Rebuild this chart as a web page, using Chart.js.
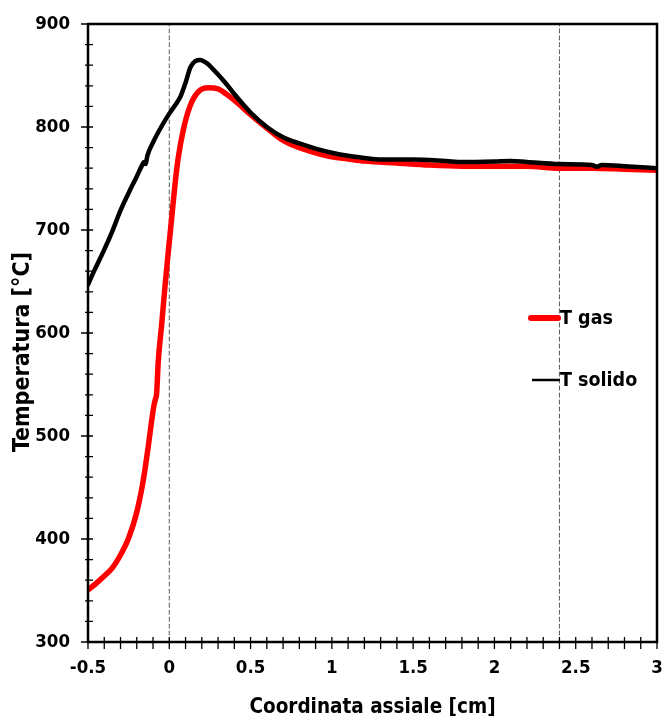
<!DOCTYPE html>
<html>
<head>
<meta charset="utf-8">
<script src="https://cdn.jsdelivr.net/npm/chart.js@4/dist/chart.umd.min.js"></script>
<style>
  html, body { margin: 0; padding: 0; background: #fff; }
  #wrap { width: 662px; height: 718px; }
</style>
</head>
<body>
<div id="wrap"><canvas id="chart" width="662" height="718"></canvas></div>
<script>
// ---- dati ----
const gasX = [-0.5, -0.45, -0.4, -0.35, -0.3, -0.25, -0.2, -0.16, -0.13, -0.11, -0.095, -0.085, -0.078,
  -0.068, -0.047, -0.026, -0.006, 0.015, 0.035, 0.055, 0.086, 0.127, 0.178, 0.24, 0.3, 0.35, 0.4,
  0.5, 0.6, 0.7, 0.8, 0.9, 1.0, 1.1, 1.2, 1.4, 1.6, 1.8, 2.0, 2.2, 2.4, 2.6, 2.8, 3.0];
const gasT = [350.5, 357, 364, 372, 384.5, 401, 426, 457, 489, 513, 529, 536, 541,
  572, 608, 646, 679, 712, 744, 770, 797, 820, 834, 838, 837, 832, 826,
  812, 799, 787, 780, 775, 771, 769, 767, 765, 763, 762, 762, 762, 760, 760, 759, 758];

const solidX = [-0.5, -0.46, -0.4, -0.35, -0.3, -0.25, -0.2, -0.17, -0.155, -0.145, -0.135, -0.1, -0.05, 0,
  0.04, 0.07, 0.1, 0.13, 0.16, 0.19, 0.23, 0.27, 0.3, 0.35, 0.4, 0.5, 0.6, 0.7, 0.8, 0.9,
  1.0, 1.1, 1.2, 1.3, 1.5, 1.7, 1.8, 2.0, 2.1, 2.2, 2.4, 2.6, 2.63, 2.66, 2.8, 3.0];
const solidT = [647, 661, 681, 699, 719, 736, 752, 762, 766, 764, 772, 785, 800, 813,
  822, 830, 843, 858, 864, 865, 862, 856, 851, 842, 832, 814, 800, 790, 784, 779,
  775, 772, 770, 768.5, 768.5, 767, 766, 766.5, 767, 766, 764, 763, 761.5, 763, 762, 760];

const markerX = [0, 2.4];          // linee tratteggiate verticali
const xTicks = [-0.5, 0, 0.5, 1, 1.5, 2, 2.5, 3];
const yTicks = [300, 400, 500, 600, 700, 800, 900];
const seriesNames = ['T gas', 'T solido'];
const yTitle = 'Temperatura [°C]';

const FONT = "'Liberation Sans Narrow', 'Arial Narrow', 'DejaVu Sans Condensed', Arial, sans-serif";

const toPts = (xs, ys) => xs.map((x, i) => ({ x, y: ys[i] }));

const datasets = [
  { label: seriesNames[1], data: toPts(solidX, solidT), borderColor: '#000', borderWidth: 4.5, order: 1 },
  { label: seriesNames[0], data: toPts(gasX, gasT), borderColor: '#ff0000', borderWidth: 5.5, order: 2 }
];
markerX.forEach(v => datasets.push({
  label: 'marker', data: [{ x: v, y: 300 }, { x: v, y: 900 }],
  borderColor: '#555', borderWidth: 1, borderDash: [4, 3], order: 3
}));

// cornice, tacche, titolo asse y e legenda
const framePlugin = {
  id: 'frame',
  afterDraw(chart) {
    const { ctx, chartArea: a, scales } = chart;
    ctx.save();
    ctx.strokeStyle = '#000';
    ctx.lineWidth = 2.5;
    ctx.strokeRect(a.left, a.top, a.right - a.left, a.bottom - a.top);
    ctx.lineWidth = 1.3;
    ctx.beginPath();
    for (let i = -5; i <= 30; i++) {
      const px = scales.x.getPixelForValue(i / 10);
      ctx.moveTo(px, a.bottom - 5); ctx.lineTo(px, a.bottom + 7);
    }
    for (let v = 300; v <= 900; v += 20) {
      const py = scales.y.getPixelForValue(v);
      const major = v % 100 === 0;
      ctx.moveTo(a.left - (major ? 7 : 3), py); ctx.lineTo(a.left + 5, py);
    }
    ctx.stroke();

    ctx.fillStyle = '#000';
    ctx.textBaseline = 'middle';
    // titolo asse y
    ctx.save();
    ctx.translate(23, 352);
    ctx.rotate(-Math.PI / 2);
    ctx.textAlign = 'center';
    ctx.font = 'bold 23px ' + FONT;
    ctx.fillText(yTitle, 0, 0);
    ctx.restore();

    // legenda
    ctx.lineCap = 'round';
    ctx.strokeStyle = '#ff0000'; ctx.lineWidth = 6;
    ctx.beginPath(); ctx.moveTo(531, 318); ctx.lineTo(558, 318); ctx.stroke();
    ctx.lineCap = 'butt';
    ctx.strokeStyle = '#000'; ctx.lineWidth = 2.5;
    ctx.beginPath(); ctx.moveTo(532, 380); ctx.lineTo(560, 380); ctx.stroke();
    ctx.font = 'bold 19.5px ' + FONT;
    ctx.fillText(seriesNames[0], 560, 319);
    ctx.fillText(seriesNames[1], 560, 381);
    ctx.restore();
  }
};

const tickFont = { family: FONT, size: 18.5, weight: 'bold' };

new Chart(document.getElementById('chart'), {
  type: 'scatter',
  data: { datasets },
  options: {
    responsive: false,
    animation: false,
    devicePixelRatio: 1,
    layout: { padding: { top: 24, right: 5, left: 0, bottom: 0 } },
    elements: { point: { radius: 0 }, line: { cubicInterpolationMode: 'monotone', borderCapStyle: 'round', borderJoinStyle: 'round' } },
    datasets: { scatter: { showLine: true, pointRadius: 0 } },
    plugins: { legend: { display: false }, tooltip: { enabled: false } },
    scales: {
      x: {
        type: 'linear', min: -0.5, max: 3,
        afterBuildTicks: s => { s.ticks = xTicks.map(v => ({ value: v })); },
        afterFit: s => { s.height = 76; s.paddingLeft = 0; s.paddingRight = 0; },
        grid: { display: false, drawTicks: false },
        border: { display: false },
        ticks: { padding: 15, color: '#000', font: tickFont, maxRotation: 0, callback: v => String(v) },
        title: { display: true, text: 'Coordinata assiale [cm]', color: '#000', padding: 0,
          font: { family: FONT, size: 20.5, weight: 'bold', lineHeight: 1.05 } }
      },
      y: {
        type: 'linear', min: 300, max: 900,
        afterBuildTicks: s => { s.ticks = yTicks.map(v => ({ value: v })); },
        afterFit: s => { s.width = 88; s.paddingTop = 0; s.paddingBottom = 0; },
        grid: { display: false, drawTicks: false },
        border: { display: false },
        ticks: { padding: 18, color: '#000', font: tickFont, callback: v => String(v) }
      }
    }
  },
  plugins: [framePlugin]
});
</script>
</body>
</html>
